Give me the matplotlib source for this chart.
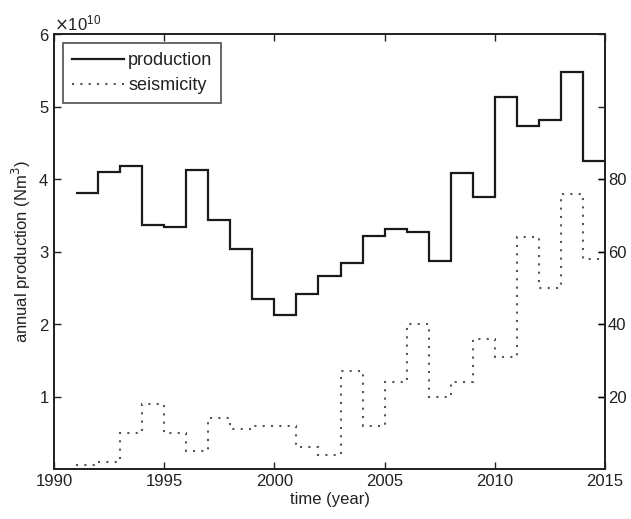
import matplotlib
matplotlib.use("Agg")
import matplotlib.pyplot as plt
from matplotlib.ticker import ScalarFormatter
import numpy as np

plt.rcParams['font.family'] = ['Liberation Sans', 'DejaVu Sans']

years = list(range(1991, 2016))  # bin edges
production = [3.81, 4.10, 4.18, 3.37, 3.34, 4.13, 3.43, 3.04, 2.35, 2.12,
              2.42, 2.66, 2.85, 3.22, 3.31, 3.27, 2.87, 4.09, 3.76, 5.14,
              4.73, 4.81, 5.48, 4.25]
production = [p * 1e10 for p in production]
seismicity = [1, 2, 10, 18, 10, 5, 14, 11, 12, 12,
              6, 4, 27, 12, 24, 40, 20, 24, 36, 31,
              64, 50, 76, 58]

left_ticks = [1e10, 2e10, 3e10, 4e10, 5e10, 6e10]
right_ticks = [20, 40, 60, 80]
x_ticks = [1990, 1995, 2000, 2005, 2010, 2015]

txt = '#222222'
fig = plt.figure(figsize=(6.31, 5.19), dpi=100)
ax = fig.add_axes([0.0856, 0.0963, 0.8732, 0.8377])
ax2 = ax.twinx()

l1 = ax.stairs(production, years, baseline=None, color='#1a1a1a', linewidth=1.6,
               label='production')
l2 = ax2.stairs(seismicity, years, baseline=None, color='#555555', linewidth=1.5,
                linestyle=(0, (1, 3)), label='seismicity')

ax.set_xlim(1990, 2015)
ax.set_ylim(0, 6e10)
ax2.set_ylim(0, 120)
ax.set_xticks(x_ticks)
ax.set_yticks(left_ticks)
ax2.set_yticks(right_ticks)
fmt = ScalarFormatter(useMathText=True)
fmt.set_powerlimits((0, 0))
ax.yaxis.set_major_formatter(fmt)

ax.tick_params(direction='in', length=5, width=1, top=True, right=True,
               labelsize=12, colors=txt, labelcolor=txt)
ax2.tick_params(direction='in', length=5, width=1, labelsize=12, labelcolor=txt,
                pad=2)
ax.yaxis.get_offset_text().set_fontsize(12)
ax.yaxis.get_offset_text().set_color(txt)

for a in (ax, ax2):
    for s in a.spines.values():
        s.set_linewidth(1.3)
        s.set_color('#222222')

ax.set_xlabel('time (year)', fontsize=12, color=txt, labelpad=2)
ax.set_ylabel('annual production (Nm$^3$)', fontsize=12, color=txt, labelpad=4)

leg = ax.legend(handles=[l1, l2], loc='upper left', fontsize=13,
                frameon=True, fancybox=False, edgecolor='#222222',
                handlelength=2.9, handletextpad=0.2, borderpad=0.5,
                labelspacing=0.45, borderaxespad=0.5)
leg.get_frame().set_linewidth(1.2)
for t in leg.get_texts():
    t.set_color(txt)

fig.savefig('out.png', dpi=100)
